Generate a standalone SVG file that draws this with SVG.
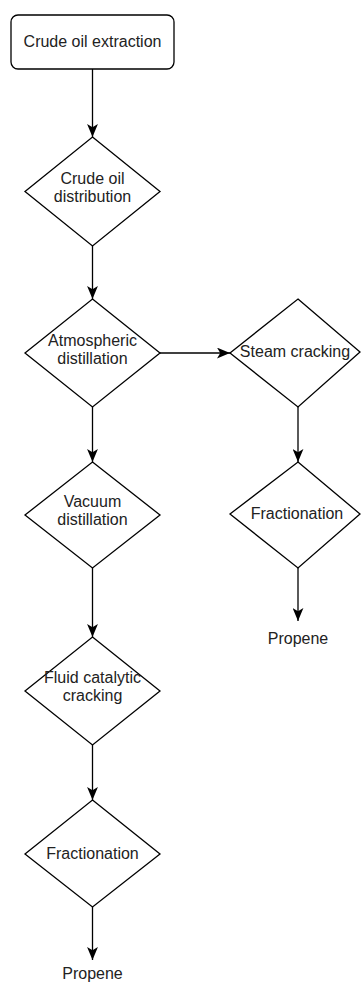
<svg xmlns="http://www.w3.org/2000/svg" width="361" height="983" viewBox="0 0 361 983">
<style>
  .shape { fill: #ffffff; stroke: #000000; stroke-width: 1.3; }
  .edge { fill: none; stroke: #000000; stroke-width: 1.3; }
  .label { font-family: "Liberation Sans", Arial, sans-serif; font-size: 16px; fill: #222222; text-anchor: middle; }
</style>
<defs>
  <marker id="arrow" viewBox="0 0 12 10" refX="12" refY="5" markerWidth="13" markerHeight="11" markerUnits="userSpaceOnUse" orient="auto">
    <path d="M0,0 L12,5 L0,10 L3,5 Z" fill="#000000"/>
  </marker>
</defs>
<rect x="0" y="0" width="361" height="983" fill="#ffffff"/>
<g id="connectors">
  <line class="edge" x1="92.5" y1="69" x2="92.5" y2="137" marker-end="url(#arrow)"/>
  <line class="edge" x1="92.5" y1="246" x2="92.5" y2="299" marker-end="url(#arrow)"/>
  <line class="edge" x1="92.5" y1="407" x2="92.5" y2="462" marker-end="url(#arrow)"/>
  <line class="edge" x1="160" y1="353" x2="230" y2="353" marker-end="url(#arrow)"/>
  <line class="edge" x1="298" y1="407" x2="298" y2="462" marker-end="url(#arrow)"/>
  <line class="edge" x1="298" y1="568" x2="298" y2="621" marker-end="url(#arrow)"/>
  <line class="edge" x1="92.5" y1="568" x2="92.5" y2="637" marker-end="url(#arrow)"/>
  <line class="edge" x1="92.5" y1="745" x2="92.5" y2="800" marker-end="url(#arrow)"/>
  <line class="edge" x1="92.5" y1="907" x2="92.5" y2="960" marker-end="url(#arrow)"/>
</g>
<g id="crude-oil-extraction">
  <rect class="shape" x="11" y="15" width="163" height="54" rx="7" ry="7"/>
  <text class="label" x="92.5" y="47">Crude oil extraction</text>
</g>
<g id="crude-oil-distribution">
  <polygon class="shape" points="92.5,137 160,191.5 92.5,246 25,191.5"/>
  <text class="label" x="92.5" y="184">Crude oil</text>
  <text class="label" x="92.5" y="202">distribution</text>
</g>
<g id="atmospheric-distillation">
  <polygon class="shape" points="92.5,299 160,353 92.5,407 25,353"/>
  <text class="label" x="92.5" y="346">Atmospheric</text>
  <text class="label" x="92.5" y="364">distillation</text>
</g>
<g id="steam-cracking">
  <polygon class="shape" points="298,299 360,352 298,407 230,353"/>
  <text class="label" x="295" y="357">Steam cracking</text>
</g>
<g id="vacuum-distillation">
  <polygon class="shape" points="92.5,462 160,515 92.5,568 25,515"/>
  <text class="label" x="92.5" y="507">Vacuum</text>
  <text class="label" x="92.5" y="525">distillation</text>
</g>
<g id="fractionation-right">
  <polygon class="shape" points="298,462 360,514 298,568 230,514"/>
  <text class="label" x="297" y="519">Fractionation</text>
</g>
<g id="propene-right">
  <text class="label" x="298" y="644">Propene</text>
</g>
<g id="fluid-catalytic-cracking">
  <polygon class="shape" points="92.5,637 160,691 92.5,745 25,691"/>
  <text class="label" x="92.5" y="683">Fluid catalytic</text>
  <text class="label" x="92.5" y="701">cracking</text>
</g>
<g id="fractionation-left">
  <polygon class="shape" points="92.5,800 160,854 92.5,907 25,854"/>
  <text class="label" x="92.5" y="859">Fractionation</text>
</g>
<g id="propene-left">
  <text class="label" x="92.5" y="979">Propene</text>
</g>
</svg>
